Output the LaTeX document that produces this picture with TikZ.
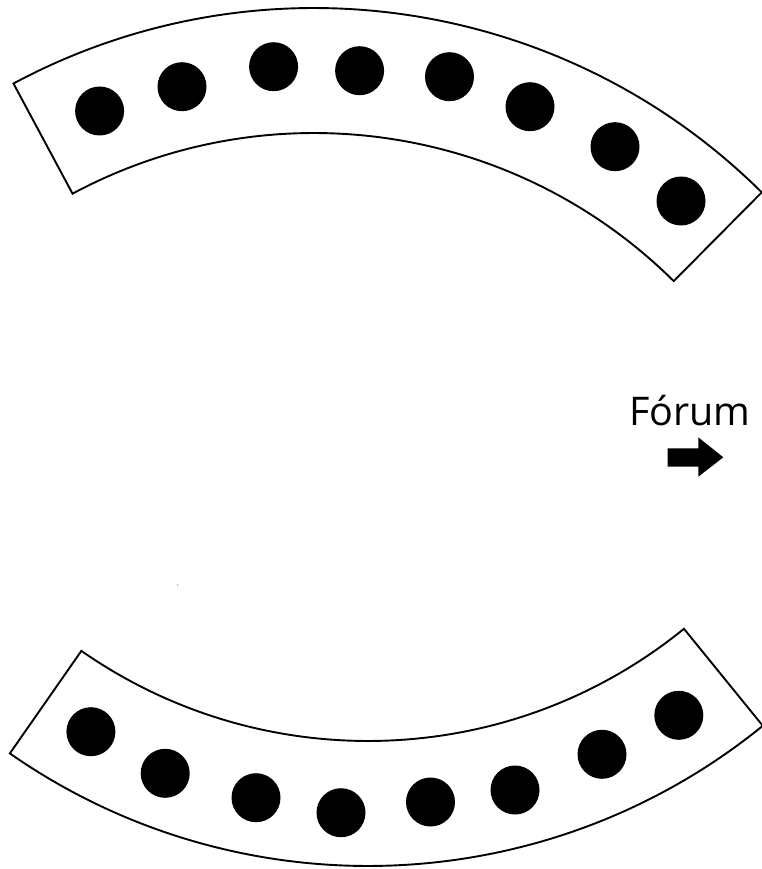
\documentclass[tikz,border=0pt]{standalone}
\usepackage{fontspec}
\setmainfont{Open Sans}
\usetikzlibrary{calc}
\tikzset{
  band/.style={draw=black, line width=1.9pt, fill=white, line join=miter},
  seat/.style={fill=black},
  arrowshape/.style={fill=black, draw=none}
}
\begin{document}
\begin{tikzpicture}[x=1pt, y=-1pt]
\useasboundingbox (0,0) rectangle (762,869);
\fill[white] (0,0) rectangle (762,869);
% top band
\coordinate (ct) at (314,644);
\draw[band] ($(ct)+(-118.2:636)$) arc[start angle=-118.2, end angle=-45.25, radius=636]
  -- ($(ct)+(-45.25:511)$) arc[start angle=-45.25, end angle=-118.2, radius=511] -- cycle;
% bottom band
\coordinate (cb) at (368,240);
\draw[band] ($(cb)+(124.9:626)$) arc[start angle=124.9, end angle=50.9, radius=626]
  -- ($(cb)+(50.9:501)$) arc[start angle=50.9, end angle=124.9, radius=501] -- cycle;
% top seats
\foreach \x/\y in {99.6/111, 182/86.7, 273.6/66.7, 359.6/70.7, 449.5/76.7, 530/106.7, 615/146.7, 681/201}
  \fill[seat] (\x,\y) circle[radius=24.5];
% bottom seats
\foreach \x/\y in {90.9/731.7, 165.2/773.3, 256/797.7, 341/812.7, 430.5/802, 515/790, 602/754.3, 678.8/715.3}
  \fill[seat] (\x,\y) circle[radius=24.5];
% label and arrow
\node[anchor=base, inner sep=0pt, font=\fontsize{39.5}{44}\selectfont] (forum) at (690,425) {Fórum};
\fill[arrowshape] (667.7,448.3) -- (698.3,448.3) -- (698.3,437.3) -- (723.3,457.3)
  -- (698.3,476.7) -- (698.3,466.7) -- (667.7,466.7) -- cycle;
% stray speck
\fill[gray!70] (177.7,585) circle[radius=0.8];
\end{tikzpicture}
\end{document}
